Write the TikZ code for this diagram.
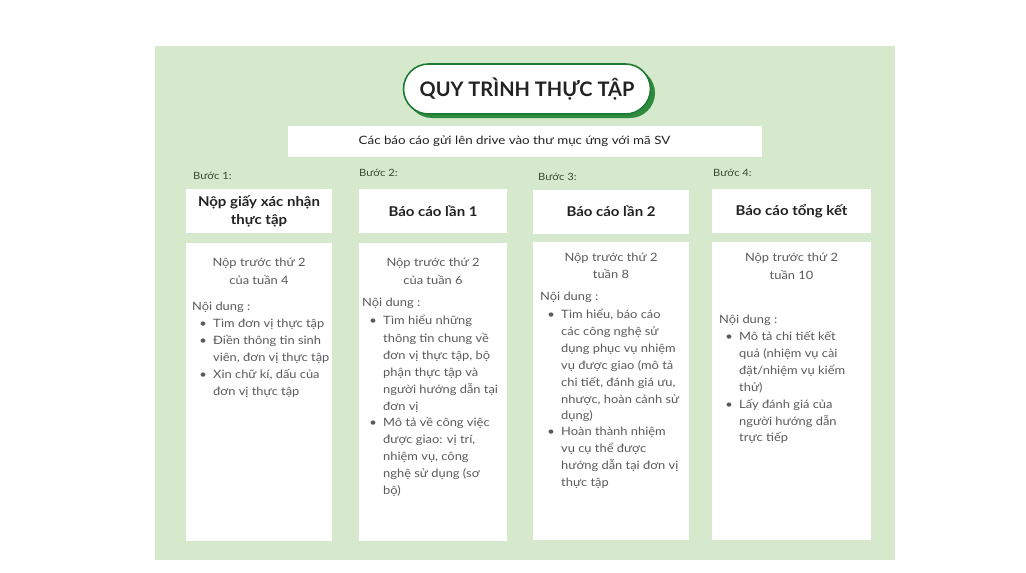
\documentclass[tikz,border=0pt]{standalone}
\usepackage{fontspec}
\setmainfont{Lato}[FakeStretch=1.12]
\newfontfamily\titlefont{Lato}
\newfontfamily\headfont{Lato}[FakeStretch=1.11]
\newfontfamily\subfont{Lato}[FakeStretch=1.16]
\definecolor{panel}{HTML}{D6E9CD}
\definecolor{pillgreen}{HTML}{1E7B34}
\definecolor{shadowgreen}{HTML}{2E8B3E}
\definecolor{bodytext}{HTML}{5A5A5A}
\definecolor{headtext}{HTML}{222222}
\definecolor{steptext}{HTML}{3B4A33}
\newcommand\tl[4]{\node[txt,anchor=west] (#1) at (#2,#3) {#4};}
\newcommand\tc[4]{\node[txt,anchor=center] (#1) at (#2,#3) {#4};}
\newcommand\bl[3]{\node[txt,anchor=center] (#1) at (#2,#3) {•};}
\begin{document}
\begin{tikzpicture}[x=1pt,y=-1pt,
  txt/.style={inner sep=0pt, font=\fontsize{11.5}{14}\selectfont, text=bodytext, text height=0.75em, text depth=0.25em},
  whitebox/.style={fill=white, draw=none, inner sep=0pt},
  headbox/.style={whitebox, minimum height=44pt, font=\headfont\bfseries\fontsize{13.5}{18}\selectfont, text=headtext, align=center},
  contentbox/.style={whitebox, minimum height=298pt},
  steplabel/.style={inner sep=0pt, anchor=west, font=\fontsize{10}{12}\selectfont, text=steptext},
  pill/.style={draw=pillgreen, line width=1.6pt, fill=white, rounded corners=25pt, minimum width=247pt, minimum height=50pt, inner sep=0pt, font=\titlefont\bfseries\fontsize{20}{24}\selectfont, text=headtext}]
\path[use as bounding box] (0,0) rectangle (1026,573);
\fill[white] (0,0) rectangle (1026,573);
\fill[panel] (155,46) rectangle (895,560);
% title
\fill[shadowgreen, rounded corners=25pt] (407,68) rectangle (655,118);
\node[pill] (title) at (527,89) {QUY TRÌNH THỰC TẬP};
% subtitle
\node[whitebox, minimum width=474pt, minimum height=31pt] (sub) at (525,141.5) {};
\node[inner sep=0pt, font=\subfont\fontsize{11.5}{14}\selectfont, text=headtext] (subtxt) at (514.5,141.5) {Các báo cáo gửi lên drive vào thư mục ứng với mã SV};
% step labels
\node[steplabel] (s1) at (193,176) {Bước 1:};
\node[steplabel] (s2) at (359,173) {Bước 2:};
\node[steplabel] (s3) at (538,177) {Bước 3:};
\node[steplabel] (s4) at (713,173) {Bước 4:};
% header boxes
\node[headbox, minimum width=146pt] (h1) at (259,211) {Nộp giấy xác nhận\\thực tập};
\node[headbox, minimum width=148pt] (h2) at (433,211) {Báo cáo lần 1};
\node[headbox, minimum width=156pt] (h3) at (611,211.5) {Báo cáo lần 2};
\node[headbox, minimum width=159pt] (h4) at (791.5,211) {Báo cáo tổng kết};
% content boxes
\node[contentbox, minimum width=146pt] (c1) at (259,392) {};
\node[contentbox, minimum width=148pt] (c2) at (433,392) {};
\node[contentbox, minimum width=156pt] (c3) at (611,391) {};
\node[contentbox, minimum width=159pt] (c4) at (791.5,391) {};
% column 1
\tc{a1}{259}{264}{Nộp trước thứ 2}
\tc{a2}{259}{282}{của tuần 4}
\tl{a3}{192}{308}{Nội dung :}
\bl{ab1}{203}{325}
\tl{a4}{213}{325}{Tìm đơn vị thực tập}
\bl{ab2}{203}{342}
\tl{a5}{213}{342}{Điền thông tin sinh}
\tl{a6}{213}{359}{viên, đơn vị thực tập}
\bl{ab3}{203}{376}
\tl{a7}{213}{376}{Xin chữ kí, dấu của}
\tl{a8}{213}{393}{đơn vị thực tập}
% column 2
\tc{b1}{433}{264}{Nộp trước thứ 2}
\tc{b2}{433}{282}{của tuần 6}
\tl{b3}{362}{304}{Nội dung :}
\bl{bb1}{373}{322}
\tl{b4}{383}{322}{Tìm hiểu những}
\tl{b5}{383}{340}{thông tin chung về}
\tl{b6}{383}{357}{đơn vị thực tập, bộ}
\tl{b7}{383}{374}{phận thực tập và}
\tl{b8}{383}{391}{người hướng dẫn tại}
\tl{b9}{383}{408}{đơn vị}
\bl{bb2}{373}{424}
\tl{b10}{383}{424}{Mô tả về công việc}
\tl{b11}{383}{441}{được giao: vị trí,}
\tl{b12}{383}{458}{nhiệm vụ, công}
\tl{b13}{383}{475}{nghệ sử dụng (sơ}
\tl{b14}{383}{492}{bộ)}
% column 3
\tc{c1a}{611}{259}{Nộp trước thứ 2}
\tc{c2a}{611}{276}{tuần 8}
\tl{c3a}{540}{298}{Nội dung :}
\bl{cb1}{551}{316}
\tl{c4a}{561}{316}{Tìm hiểu, báo cáo}
\tl{c5a}{561}{333}{các công nghệ sử}
\tl{c6a}{561}{350}{dụng phục vụ nhiệm}
\tl{c7a}{561}{367}{vụ được giao (mô tả}
\tl{c8a}{561}{384}{chi tiết, đánh giá ưu,}
\tl{c9a}{561}{401}{nhược, hoàn cảnh sử}
\tl{c10a}{561}{417}{dụng)}
\bl{cb2}{551}{433}
\tl{c11a}{561}{433}{Hoàn thành nhiệm}
\tl{c12a}{561}{450}{vụ cụ thể được}
\tl{c13a}{561}{467}{hướng dẫn tại đơn vị}
\tl{c14a}{561}{484}{thực tập}
% column 4
\tc{d1}{791.5}{259}{Nộp trước thứ 2}
\tc{d2}{791.5}{277}{tuần 10}
\tl{d3}{719}{321}{Nội dung :}
\bl{db1}{729}{338}
\tl{d4}{739}{338}{Mô tả chi tiết kết}
\tl{d5}{739}{355}{quả (nhiệm vụ cài}
\tl{d6}{739}{372}{đặt/nhiệm vụ kiểm}
\tl{d7}{739}{389}{thử)}
\bl{db2}{729}{406}
\tl{d8}{739}{406}{Lấy đánh giá của}
\tl{d9}{739}{423}{người hướng dẫn}
\tl{d10}{739}{439}{trực tiếp}
\end{tikzpicture}
\end{document}
